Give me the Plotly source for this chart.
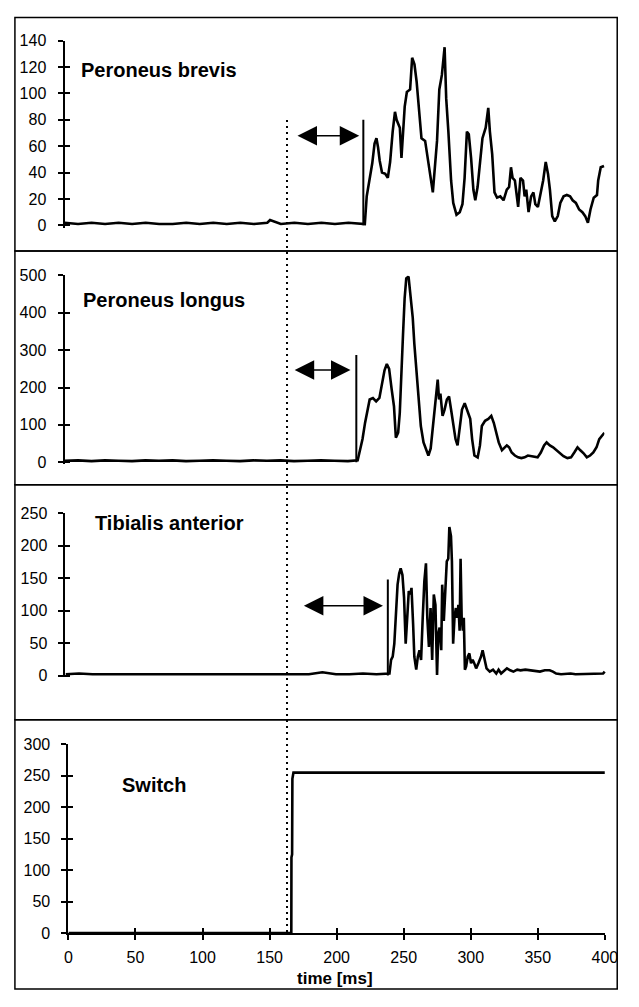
import plotly.graph_objects as go

# ---------------- data ----------------
pb_t = [0, 10, 20, 30, 40, 50, 60, 70, 80, 90, 100, 110, 120, 130, 140, 150, 152, 160, 170, 180, 190, 200, 210, 220.5,
        222.1, 223.5, 225.2, 227.6, 229.3, 230.7, 231.9, 233.1, 234.8, 237.2, 239.1, 240.8, 242.7, 244.4, 245.6, 248.0,
        249.2, 250.4, 251.6, 253.2, 255.6, 257.1, 258.8, 260.4, 262.4, 264.0, 266.7, 268.4, 270.8, 272.4, 273.9, 275.5,
        277.2, 279.1, 281.1, 282.3, 283.9, 285.9, 287.5, 289.9, 292.3, 294.3, 295.9, 297.6, 299.0, 300.7, 302.4, 303.8,
        305.5, 307.4, 309.1, 311.5, 313.4, 314.6, 316.3, 318.0, 319.9, 322.3, 324.7, 327.1, 328.8, 330.2, 331.4, 333.1,
        334.3, 335.5, 337.2, 339.1, 340.3, 341.5, 343.2, 345.1, 346.8, 348.2, 350.1, 352.3, 354.0, 355.9, 357.6, 359.0,
        360.7, 362.6, 364.8, 366.7, 369.1, 371.5, 373.9, 375.8, 378.2, 380.6, 383.0, 385.1, 387.1, 389.0, 391.4, 393.8,
        394.7, 396.6, 399.0]
pb_v = [2, 1, 2, 1, 2, 1, 2, 1, 1, 2, 1, 2, 1, 2, 1, 2, 4, 1, 2, 1, 2, 1, 2, 1,
        1, 22, 32, 47, 62, 66, 59, 49, 40, 39, 36, 48, 71, 86, 80, 74,
        51, 74, 90, 101, 103, 127, 122, 109, 86, 66, 64, 51, 36, 25, 42, 64,
        103, 114, 135, 96, 71, 34, 17, 8, 10, 16, 36, 71, 69, 51, 27, 19,
        29, 51, 66, 74, 89, 71, 54, 25, 21, 22, 19, 27, 29, 44, 36, 34,
        22, 14, 36, 34, 22, 27, 10, 22, 25, 16, 14, 25, 34, 48, 39, 27,
        7, 3, 7, 17, 22, 23, 22, 19, 17, 12, 10, 7, 2, 12, 21, 23,
        34, 44, 45]

pl_t = [0, 10, 20, 30, 40, 50, 60, 70, 80, 90, 100, 110, 120, 130, 140, 150, 160, 170, 180, 190, 200, 210,
        217.2, 218.9, 220.8, 222.7, 224.4, 226.1, 228.5, 230.9, 233.3, 235.2, 237.1, 238.8, 240.5, 242.4, 244.1,
        245.5, 247.2, 248.4, 249.6, 250.8, 252.0, 253.2, 254.9, 256.4, 258.0, 259.2, 260.9, 262.4, 264.0, 266.0,
        267.6, 269.6, 271.3, 272.9, 274.4, 275.6, 276.5, 277.5, 278.5, 280.1, 281.6, 283.3, 284.9, 286.4, 288.1,
        289.7, 291.2, 292.9, 294.5, 296.5, 298.4, 300.6, 302.0, 303.7, 306.1, 307.8, 309.2, 311.6, 314.0, 316.2,
        318.1, 319.8, 321.7, 324.1, 326.0, 327.7, 329.4, 331.3, 333.7, 336.1, 338.5, 340.9, 343.3, 345.7, 348.1,
        350.5, 352.9, 355.3, 357.2, 359.6, 362.0, 364.5, 366.9, 369.7, 372.6, 375.3, 377.7, 380.1, 382.2, 384.6,
        387.0, 389.4, 391.8, 394.2, 396.2, 398.1, 400.0]
pl_v = [4, 5, 3, 5, 4, 3, 5, 4, 5, 3, 4, 5, 4, 3, 5, 4, 5, 3, 4, 5, 4, 3,
        5, 32, 62, 106, 141, 168, 172, 163, 172, 211, 246, 263, 250, 195, 150,
        66, 79, 132, 255, 342, 439, 492, 497, 447, 387, 316, 237, 168, 97, 53,
        37, 18, 37, 89, 150, 184, 221, 168, 184, 124, 141, 168, 176, 141, 97,
        62, 45, 89, 141, 158, 141, 116, 62, 18, 13, 45, 97, 111, 116, 124,
        105, 79, 53, 32, 40, 45, 40, 26, 18, 13, 11, 13, 18, 16, 13,
        13, 26, 45, 53, 45, 40, 32, 24, 16, 11, 13, 26, 40, 32, 24,
        13, 18, 26, 40, 62, 71, 79]

ta_t = [0, 10, 20, 30, 40, 50, 60, 70, 80, 90, 100, 110, 120, 130, 140, 150, 160, 170, 180, 190, 200, 210, 220, 230, 238,
        239.6, 240.8, 242.0, 243.2, 244.4, 245.6, 246.8, 247.9, 249.2, 250.4, 251.6, 252.7, 253.9, 255.1, 255.9,
        257.1, 258.0, 259.4, 260.6, 261.8, 263.0, 264.2, 265.4, 266.6, 267.6, 268.8, 270.0, 271.2, 272.4, 273.6,
        274.8, 275.7, 276.7, 277.9, 278.6, 279.8, 280.8, 282.0, 283.1, 283.9, 285.1, 285.8, 286.7, 287.7, 288.7,
        289.6, 290.6, 291.5, 292.2, 293.0, 293.9, 294.6, 295.4, 296.3, 297.5, 298.7, 299.9, 301.1, 302.3, 303.7,
        305.4, 307.3, 308.5, 309.7, 311.4, 313.8, 316.2, 318.6, 320.3, 322.2, 324.1, 326.5, 328.9, 331.3, 334.1,
        336.5, 340.1, 343.7, 347.3, 350.9, 354.5, 358.1, 360.5, 362.9, 366.5, 370.0, 373.6, 377.2, 380.8, 384.4,
        388.0, 391.6, 395.2, 397.6, 398.8]
ta_v = [2, 3, 2, 2, 3, 2, 2, 3, 2, 2, 3, 2, 2, 3, 2, 2, 3, 2, 2, 5, 2, 2, 3, 2, 2,
        3, 24, 29, 49, 89, 140, 157, 165, 155, 120, 49, 89, 130, 125, 135,
        79, 29, 9, 29, 39, 24, 89, 145, 173, 89, 44, 104, 24, 125, 109,
        1, 64, 74, 39, 140, 84, 125, 176, 180, 229, 215, 176, 49, 89, 104,
        89, 109, 69, 180, 89, 69, 89, 9, 14, 29, 34, 19, 24, 19, 11,
        19, 29, 39, 29, 11, 6, 9, 3, 9, 3, 6, 11, 8, 6, 9,
        8, 9, 8, 6, 6, 8, 8, 6, 3, 2, 3, 3, 2, 2, 2,
        2, 2, 3, 3, 6]

sw_t = [0, 166.2, 166.3, 166.8, 167.0, 167.8, 400]
sw_v = [0, 0, 120, 125, 245, 255, 255]

# onset markers (vertical bars) and latency arrows for the three muscles
onset_t = [221.0, 216.2, 238.4]
onset_h = [80, 287, 148]
arrow_left = [171.2, 169.4, 175.2]
arrow_right = [218.0, 211.9, 234.8]
arrow_y = [67.8, 247, 107.6]
switch_ms = 163

labels = ["Peroneus brevis", "Peroneus longus", "Tibialis anterior", "Switch"]
y_ranges = [[-2, 140], [-6, 500], [-3, 250], [0, 300]]
y_dticks = [20, 100, 50, 50]
x_ticks = [0, 50, 100, 150, 200, 250, 300, 350, 400]

# ---------------- layout geometry (pixels of the 639x1007 page) ----------------
# The page body keeps its default 8px margin, so the figure is 16px smaller
# and every page coordinate is shifted by 8px.
OFF = 8
W, H = 639 - 2 * OFF, 1007 - 2 * OFF
def fx(p):
    return (p - OFF) / W
def fy(p):
    return 1 - (p - OFF) / H

x_dom_px = [(62, 618), (62, 617), (63, 619), (66, 617.5)]
y_dom_px = [(223.7, 33), (464.3, 272), (681, 514), (941, 749)]
label_pos = [(77, 63), (79, 297), (91, 524), (119, 790)]
panel_px = [(9.5, 247), (247, 485), (485, 724), (724, 998)]
frame_x = (11, 630.2)

FONT = "Liberation Sans, Arial, sans-serif"

fig = go.Figure()
series = [(pb_t, pb_v), (pl_t, pl_v), (ta_t, ta_v), (sw_t, sw_v)]
for i, (t, v) in enumerate(series):
    xa = "x" if i == 0 else f"x{i+1}"
    ya = "y" if i == 0 else f"y{i+1}"
    fig.add_trace(go.Scatter(x=t, y=v, mode="lines", xaxis=xa, yaxis=ya,
                             line=dict(color="black", width=2.6), showlegend=False,
                             hoverinfo="skip"))
for i in range(3):
    xa = "x" if i == 0 else f"x{i+1}"
    ya = "y" if i == 0 else f"y{i+1}"
    fig.add_trace(go.Scatter(x=[onset_t[i], onset_t[i]], y=[0, onset_h[i]], mode="lines",
                             xaxis=xa, yaxis=ya, line=dict(color="black", width=2),
                             showlegend=False, hoverinfo="skip"))

layout = dict(width=W, height=H, margin=dict(l=0, r=0, t=0, b=0),
              paper_bgcolor="white", plot_bgcolor="rgba(0,0,0,0)", showlegend=False,
              font=dict(family=FONT, color="black", size=16))

for i in range(4):
    n = "" if i == 0 else str(i + 1)
    xd = [fx(x_dom_px[i][0]), fx(x_dom_px[i][1])]
    yd = [fy(y_dom_px[i][0]), fy(y_dom_px[i][1])]
    layout[f"xaxis{n}"] = dict(domain=xd, range=[0, 400], anchor=f"y{n}",
                               visible=(i == 3), showgrid=False, zeroline=False,
                               showline=True, linecolor="black", linewidth=2,
                               ticks="outside", ticklen=5, tickwidth=1.5, tickcolor="black",
                               tickvals=x_ticks, tickfont=dict(size=16, family=FONT),
                               ticklabelstandoff=4, ticklabeloverflow="allow")
    layout[f"yaxis{n}"] = dict(domain=yd, range=y_ranges[i], anchor=f"x{n}",
                               showgrid=False, zeroline=False, showline=True,
                               linecolor="black", linewidth=2, ticks="outside",
                               ticklen=5, tickwidth=1.5, tickcolor="black",
                               tick0=0, dtick=y_dticks[i],
                               tickfont=dict(size=16, family=FONT), ticklabelstandoff=8)
    # overlay axis for the inner half of the crossing tick marks
    m = str(i + 5)
    layout[f"yaxis{m}"] = dict(overlaying=f"y{n}", anchor=f"x{n}", range=y_ranges[i],
                               showgrid=False, zeroline=False, showline=False,
                               ticks="inside", ticklen=5, tickwidth=1.5, tickcolor="black",
                               tick0=0, dtick=y_dticks[i], showticklabels=False)
    fig.add_trace(go.Scatter(x=[None], y=[None], xaxis=f"x{n}", yaxis=f"y{m}",
                             showlegend=False, hoverinfo="skip"))

layout["xaxis5"] = dict(overlaying="x4", anchor="y4", range=[0, 400], showgrid=False,
                        zeroline=False, showline=False, ticks="inside", ticklen=5,
                        tickwidth=1.5, tickcolor="black", tickvals=x_ticks,
                        showticklabels=False)
fig.add_trace(go.Scatter(x=[None], y=[None], xaxis="x5", yaxis="y4",
                         showlegend=False, hoverinfo="skip"))

shapes = []
for (top, bot) in panel_px:
    shapes.append(dict(type="rect", xref="paper", yref="paper",
                       x0=fx(frame_x[0]), x1=fx(frame_x[1]), y0=fy(bot), y1=fy(top),
                       line=dict(color="black", width=1.5), fillcolor="rgba(0,0,0,0)"))
shapes.append(dict(type="line", xref="x4", yref="paper", x0=switch_ms, x1=switch_ms,
                   y0=fy(940), y1=fy(110), line=dict(color="black", width=2, dash="2px,4px")))
layout["shapes"] = shapes

ann = []
for i in range(4):
    ann.append(dict(xref="paper", yref="paper", x=fx(label_pos[i][0]), y=fy(label_pos[i][1]),
                    xanchor="left", yanchor="middle", showarrow=False,
                    text=f"<b>{labels[i]}</b>", font=dict(size=20, family=FONT, color="black")))
for i in range(3):
    xa = "x" if i == 0 else f"x{i+1}"
    ya = "y" if i == 0 else f"y{i+1}"
    ann.append(dict(xref=xa, yref=ya, axref=xa, ayref=ya, x=arrow_right[i], y=arrow_y[i],
                    ax=arrow_left[i], ay=arrow_y[i], text="", showarrow=True,
                    arrowside="end+start", arrowhead=2, startarrowhead=2,
                    arrowsize=2.6, startarrowsize=2.6, arrowwidth=1.5, arrowcolor="black"))
ann.append(dict(xref="paper", yref="paper", x=fx(340), y=fy(987), xanchor="center",
                yanchor="middle", showarrow=False, text="<b>time [ms]</b>",
                font=dict(size=17, family=FONT, color="black")))
layout["annotations"] = ann

fig.update_layout(**layout)
fig.write_html("out.html", config={"displayModeBar": False})
